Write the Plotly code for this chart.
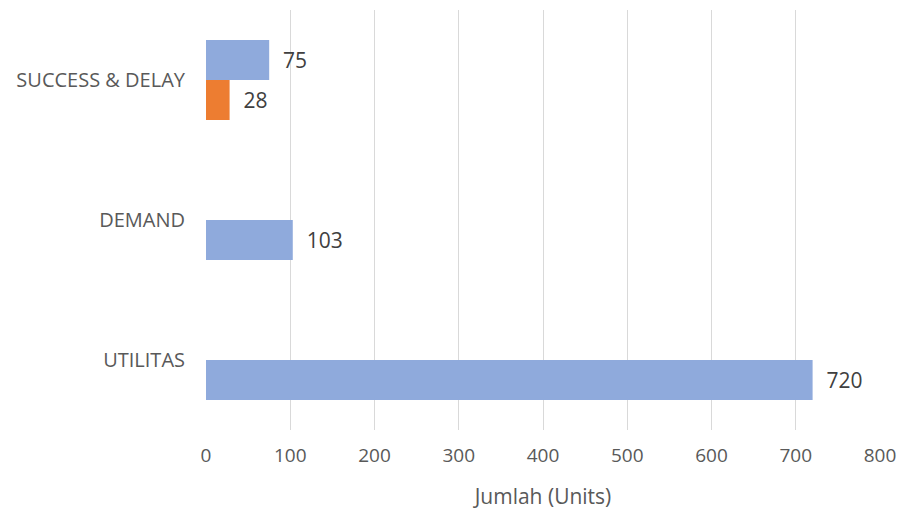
import plotly.graph_objects as go

categories = ["UTILITAS", "DEMAND", "SUCCESS & DELAY"]
lower_values = [720, 103, 28]
lower_colors = ["#8faadc", "#8faadc", "#ed7d31"]
upper_values = [None, None, 75]
x_ticks = [0, 100, 200, 300, 400, 500, 600, 700, 800]

fig = go.Figure()
fig.add_trace(go.Bar(
    y=categories, x=lower_values, orientation="h",
    marker=dict(color=lower_colors, line=dict(width=0)),
    text=["  " + str(v) for v in lower_values], textposition="outside",
    textfont=dict(size=21, color="#404040", family="Open Sans"),
    cliponaxis=False, showlegend=False,
))
fig.add_trace(go.Bar(
    y=categories, x=upper_values, orientation="h",
    marker=dict(color="#8faadc", line=dict(width=0)),
    text=["" if v is None else "  " + str(v) for v in upper_values], textposition="outside",
    textfont=dict(size=21, color="#404040", family="Open Sans"),
    cliponaxis=False, showlegend=False,
))

fig.update_layout(
    width=906, height=518,
    margin=dict(l=206, r=21, t=10, b=88),
    paper_bgcolor="white", plot_bgcolor="white",
    barmode="group", bargap=0.4286, bargroupgap=0,
    font=dict(family="Open Sans", color="#595959"),
    xaxis=dict(
        range=[0, 800], tickvals=x_ticks, showgrid=True, gridcolor="#d9d9d9", gridwidth=1,
        zeroline=False, showline=False, tickfont=dict(size=19, color="#595959"),
        ticklabelstandoff=12,
        title=dict(text="Jumlah (Units)", font=dict(size=21, color="#595959"), standoff=22),
    ),
    yaxis=dict(
        categoryorder="array", categoryarray=categories,
        showgrid=False, zeroline=False, showline=False,
        tickfont=dict(size=20, color="#595959"), ticklabelstandoff=20,
    ),
)

fig.write_html("out.html")
